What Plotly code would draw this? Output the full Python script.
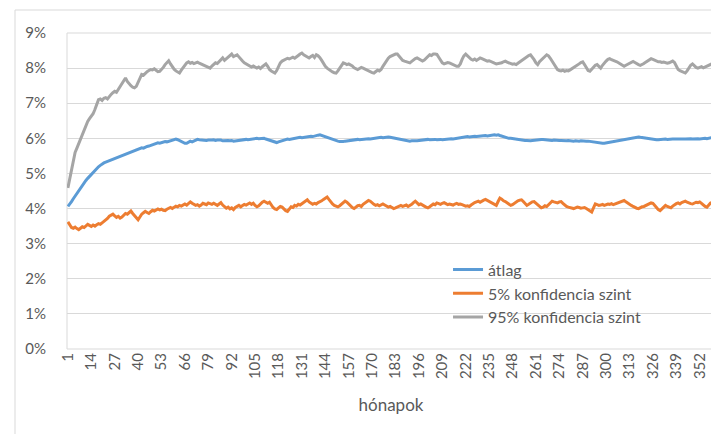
import plotly.graph_objects as go

months = list(range(1, 361))
tick_months = list(range(1, 361, 13))

atlag = [
    4.06, 4.12, 4.20, 4.28, 4.36, 4.42, 4.50, 4.58, 4.65, 4.72,
    4.80, 4.86, 4.92, 4.98, 5.04, 5.10, 5.14, 5.19, 5.23, 5.27,
    5.30, 5.32, 5.34, 5.37, 5.39, 5.41, 5.44, 5.46, 5.47, 5.50,
    5.51, 5.53, 5.55, 5.56, 5.58, 5.61, 5.62, 5.64, 5.67, 5.69,
    5.71, 5.73, 5.72, 5.75, 5.77, 5.78, 5.80, 5.82, 5.84, 5.85,
    5.87, 5.86, 5.88, 5.90, 5.91, 5.90, 5.92, 5.94, 5.95, 5.96,
    5.98, 5.96, 5.93, 5.90, 5.88, 5.86, 5.86, 5.89, 5.92, 5.90,
    5.92, 5.95, 5.97, 5.96, 5.95, 5.96, 5.95, 5.94, 5.95, 5.94,
    5.95, 5.96, 5.94, 5.95, 5.96, 5.95, 5.93, 5.94, 5.95, 5.94,
    5.93, 5.94, 5.92, 5.93, 5.93, 5.95, 5.96, 5.95, 5.96, 5.97,
    5.96, 5.97, 5.98, 5.97, 5.99, 6.00, 5.99, 6.00, 6.01, 6.00,
    5.98, 5.96, 5.94, 5.92, 5.90, 5.89, 5.88, 5.90, 5.92, 5.94,
    5.96, 5.97, 5.98, 5.97, 5.98, 6.00, 6.01, 6.00, 6.02, 6.03,
    6.02, 6.03, 6.04, 6.03, 6.05, 6.06, 6.05, 6.07, 6.08, 6.09,
    6.10, 6.08, 6.06, 6.04, 6.02, 6.00, 5.98, 5.96, 5.94, 5.93,
    5.92, 5.91, 5.90, 5.91, 5.92, 5.93, 5.94, 5.94, 5.95, 5.95,
    5.96, 5.97, 5.96, 5.97, 5.98, 5.97, 5.98, 5.99, 5.98, 5.99,
    6.00, 6.01, 6.00, 6.02, 6.03, 6.02, 6.03, 6.04, 6.04, 6.03,
    6.02, 6.01, 6.00, 5.98, 5.97, 5.96, 5.95, 5.94, 5.93, 5.92,
    5.92, 5.93, 5.92, 5.93, 5.93, 5.94, 5.95, 5.95, 5.96, 5.96,
    5.97, 5.96, 5.97, 5.96, 5.97, 5.96, 5.97, 5.97, 5.96, 5.97,
    5.98, 5.97, 5.98, 5.99, 5.98, 5.99, 6.00, 6.01, 6.02, 6.02,
    6.03, 6.04, 6.05, 6.04, 6.05, 6.06, 6.06, 6.05, 6.06, 6.07,
    6.06, 6.07, 6.08, 6.07, 6.08, 6.09, 6.09, 6.10, 6.09, 6.10,
    6.08, 6.06, 6.04, 6.02, 6.01, 6.00, 6.00, 5.99, 6.00, 5.99,
    5.98, 5.97, 5.96, 5.95, 5.94, 5.94, 5.93, 5.93, 5.94, 5.95,
    5.96, 5.97, 5.96, 5.97, 5.97, 5.96, 5.95, 5.96, 5.95, 5.94,
    5.95, 5.94, 5.95, 5.94, 5.94, 5.93, 5.94, 5.93, 5.94, 5.93,
    5.93, 5.92, 5.93, 5.92, 5.92, 5.93, 5.92, 5.91, 5.92, 5.92,
    5.91, 5.90, 5.89, 5.88, 5.87, 5.86, 5.85, 5.86, 5.86, 5.87,
    5.88, 5.89, 5.90, 5.91, 5.92, 5.92, 5.93, 5.94, 5.95, 5.97,
    5.98, 6.00, 6.01, 6.02, 6.03, 6.04, 6.05, 6.04, 6.03, 6.02,
    6.02, 6.01, 6.00, 5.99, 5.98, 5.97, 5.97, 5.96, 5.96, 5.97,
    5.96, 5.97, 5.98, 5.97, 5.98, 5.97, 5.98, 5.98, 5.97, 5.98,
    5.98, 5.99, 5.98, 5.98, 5.99, 5.98, 5.99, 5.98, 5.99, 5.99,
    5.99, 5.98, 5.99, 5.99, 6.00, 5.99, 6.00, 6.01, 6.02, 6.04,
]

konf5 = [
    3.62, 3.52, 3.46, 3.44, 3.47, 3.43, 3.40, 3.44, 3.48, 3.46,
    3.51, 3.55, 3.52, 3.49, 3.53, 3.50, 3.54, 3.57, 3.55, 3.59,
    3.62, 3.66, 3.72, 3.78, 3.80, 3.84, 3.79, 3.75, 3.78, 3.73,
    3.76, 3.82, 3.86, 3.84, 3.90, 3.93, 3.86, 3.79, 3.72, 3.68,
    3.76, 3.84, 3.88, 3.92, 3.89, 3.86, 3.91, 3.95, 3.93, 3.97,
    3.99, 3.96, 3.98, 3.95, 3.94, 3.98, 4.01, 4.03, 4.00, 4.04,
    4.07, 4.05, 4.09, 4.07, 4.11, 4.13, 4.10, 4.16, 4.19, 4.15,
    4.12, 4.09, 4.11, 4.07, 4.10, 4.15, 4.13, 4.11, 4.16, 4.14,
    4.12, 4.15, 4.11, 4.09, 4.13, 4.17, 4.10, 4.05, 4.01, 4.04,
    3.99, 4.02, 3.97, 4.03, 4.06, 4.09, 4.05, 4.08, 4.12, 4.10,
    4.14, 4.16, 4.12, 4.15, 4.09, 4.05, 4.08, 4.14, 4.18, 4.21,
    4.17, 4.15, 4.18, 4.10, 4.03, 3.99, 3.97, 4.02, 4.06, 4.04,
    3.98, 3.94, 3.92, 3.99, 4.05, 4.03, 4.09, 4.07, 4.12, 4.10,
    4.14, 4.18, 4.21, 4.25, 4.19, 4.16, 4.12, 4.15, 4.13, 4.17,
    4.19, 4.22, 4.26, 4.30, 4.33, 4.26, 4.18, 4.13, 4.09, 4.07,
    4.05, 4.08, 4.13, 4.17, 4.21, 4.18, 4.12, 4.06, 4.03, 4.00,
    4.04, 4.08, 4.09, 4.06, 4.12, 4.15, 4.19, 4.23, 4.21, 4.16,
    4.12, 4.09, 4.11, 4.08, 4.10, 4.13, 4.10, 4.07, 4.04, 4.06,
    4.03, 4.00, 4.02, 4.05, 4.08, 4.09, 4.06, 4.08, 4.10, 4.06,
    4.08, 4.12, 4.17, 4.21, 4.16, 4.11, 4.13, 4.09, 4.07, 4.04,
    4.02, 4.05, 4.09, 4.13, 4.11, 4.16, 4.14, 4.12, 4.15, 4.17,
    4.14, 4.11, 4.13, 4.12, 4.10, 4.13, 4.15, 4.12, 4.13, 4.11,
    4.09, 4.07, 4.08, 4.06, 4.10, 4.14, 4.17, 4.19, 4.21, 4.18,
    4.22, 4.24, 4.26, 4.23, 4.21, 4.17, 4.13, 4.10, 4.09, 4.20,
    4.30, 4.27, 4.22, 4.20, 4.16, 4.12, 4.09, 4.11, 4.15, 4.19,
    4.22, 4.24, 4.25, 4.20, 4.14, 4.09, 4.12, 4.16, 4.19, 4.20,
    4.15, 4.10, 4.05, 4.02, 4.04, 4.08, 4.06, 4.12, 4.18, 4.21,
    4.19, 4.17, 4.16, 4.19, 4.20, 4.15, 4.10, 4.06, 4.04, 4.02,
    4.01, 4.00, 4.02, 4.04, 4.03, 4.01, 4.02, 4.03, 4.00, 3.96,
    3.92, 3.90, 4.02, 4.13, 4.11, 4.09, 4.10, 4.12, 4.09, 4.11,
    4.13, 4.12, 4.14, 4.11, 4.13, 4.15, 4.17, 4.19, 4.21, 4.23,
    4.19, 4.15, 4.11, 4.09, 4.06, 4.03, 4.01, 4.00, 4.03, 4.05,
    4.06, 4.08, 4.11, 4.14, 4.16, 4.15, 4.10, 4.03, 3.97, 3.94,
    3.99, 4.05, 4.09, 4.06, 4.03, 4.02, 4.07, 4.11, 4.14, 4.16,
    4.13, 4.17, 4.19, 4.21, 4.18, 4.15, 4.14, 4.13, 4.16, 4.18,
    4.17, 4.19, 4.15, 4.10, 4.06, 4.04, 4.10, 4.16, 4.18, 4.19,
]

konf95 = [
    4.59, 4.85, 5.10, 5.35, 5.60, 5.72, 5.85, 6.00, 6.12, 6.25,
    6.38, 6.48, 6.56, 6.62, 6.70, 6.82, 6.95, 7.10, 7.12, 7.08,
    7.14, 7.16, 7.12, 7.20, 7.25, 7.30, 7.34, 7.31, 7.40, 7.48,
    7.55, 7.63, 7.72, 7.62, 7.55, 7.50, 7.46, 7.44, 7.48, 7.60,
    7.72, 7.82, 7.80, 7.86, 7.90, 7.93, 7.96, 7.95, 7.98, 7.94,
    7.90, 7.91, 7.96, 8.02, 8.10, 8.16, 8.21, 8.12, 8.03, 7.97,
    7.92, 7.88, 7.86, 7.94, 8.02, 8.10, 8.15, 8.18, 8.14, 8.16,
    8.13, 8.15, 8.17, 8.14, 8.12, 8.09, 8.06, 8.04, 8.02, 8.00,
    8.06, 8.12, 8.15, 8.13, 8.18, 8.24, 8.29, 8.22, 8.26, 8.31,
    8.35, 8.40, 8.33, 8.36, 8.38, 8.32, 8.25, 8.20, 8.15, 8.12,
    8.08, 8.05, 8.03, 8.06, 8.02, 8.00, 8.03, 7.99, 8.04, 8.08,
    8.12, 8.05, 7.96, 7.92, 7.88, 7.86, 7.93, 8.05, 8.15, 8.20,
    8.22, 8.25, 8.28, 8.26, 8.29, 8.31, 8.28, 8.33, 8.36, 8.40,
    8.43, 8.38, 8.35, 8.31, 8.29, 8.33, 8.36, 8.30, 8.38, 8.35,
    8.30, 8.22, 8.12, 8.05, 8.00, 7.96, 7.92, 7.89, 7.87, 7.86,
    7.92, 8.00, 8.08, 8.15, 8.13, 8.10, 8.12, 8.10, 8.06, 8.01,
    7.98, 7.96, 7.99, 8.02, 8.00, 7.97, 7.94, 7.92, 7.89, 7.87,
    7.86, 7.90, 7.94, 7.92, 7.96, 8.05, 8.14, 8.22, 8.28, 8.33,
    8.36, 8.38, 8.40, 8.40, 8.33, 8.26, 8.22, 8.20, 8.18, 8.15,
    8.15, 8.19, 8.24, 8.27, 8.29, 8.26, 8.22, 8.20, 8.23, 8.28,
    8.33, 8.38, 8.36, 8.40, 8.40, 8.39, 8.31, 8.22, 8.15, 8.12,
    8.14, 8.16, 8.15, 8.12, 8.09, 8.07, 8.05, 8.05, 8.12, 8.25,
    8.35, 8.40, 8.34, 8.28, 8.25, 8.23, 8.26, 8.22, 8.25, 8.29,
    8.27, 8.24, 8.22, 8.20, 8.21, 8.18, 8.16, 8.14, 8.12, 8.13,
    8.12, 8.15, 8.18, 8.20, 8.17, 8.15, 8.13, 8.11, 8.12, 8.10,
    8.14, 8.18, 8.22, 8.25, 8.28, 8.33, 8.36, 8.38, 8.32, 8.24,
    8.15, 8.10, 8.18, 8.24, 8.30, 8.33, 8.38, 8.35, 8.28, 8.20,
    8.10, 8.02, 7.96, 7.93, 7.92, 7.94, 7.91, 7.93, 7.92, 7.95,
    7.98, 8.02, 8.05, 8.08, 8.12, 8.16, 8.18, 8.10, 8.00, 7.93,
    7.91, 7.96, 8.03, 8.08, 8.10, 8.06, 8.00, 8.08, 8.15, 8.20,
    8.25, 8.27, 8.24, 8.21, 8.20, 8.18, 8.15, 8.12, 8.08, 8.05,
    8.08, 8.11, 8.15, 8.17, 8.19, 8.16, 8.12, 8.10, 8.08, 8.10,
    8.13, 8.17, 8.21, 8.24, 8.27, 8.25, 8.22, 8.20, 8.18, 8.18,
    8.16, 8.17, 8.15, 8.14, 8.15, 8.17, 8.20, 8.16, 8.06, 7.96,
    7.93, 7.90, 7.88, 7.86, 7.92, 8.02, 8.08, 8.12, 8.06, 8.02,
    8.00, 8.02, 8.04, 8.01, 8.03, 8.05, 8.07, 8.10, 8.13, 8.15,
]

series_names = ["átlag", "5% konfidencia szint", "95% konfidencia szint"]
series_colors = ["#5B9BD5", "#ED7D31", "#A5A5A5"]
series_values = [atlag, konf5, konf95]

font_family = "Lato, 'Open Sans', sans-serif"
text_color = "#595959"

fig = go.Figure()
for name, color, vals in zip(series_names, series_colors, series_values):
    fig.add_trace(go.Scatter(
        x=months, y=vals, name=name, mode="lines",
        line=dict(color=color, width=3),
    ))

fig.update_layout(
    width=719, height=434,
    margin=dict(l=59, r=12, t=25, b=93),
    paper_bgcolor="white", plot_bgcolor="white",
    font=dict(family=font_family, color=text_color, size=14),
    showlegend=True,
    legend=dict(
        x=0.588, y=0.305, xanchor="left", yanchor="top",
        bgcolor="rgba(0,0,0,0)", font=dict(size=16, color=text_color),
        tracegroupgap=0, itemwidth=30,
    ),
    xaxis=dict(
        range=[0.5, 360.5], tickmode="array", tickvals=tick_months,
        ticktext=[str(m) for m in tick_months], tickangle=-90,
        showgrid=False, zeroline=False, showline=False, ticks="",
        tickfont=dict(size=15, color=text_color),
        title=dict(text="hónapok", font=dict(size=17, color=text_color), standoff=20),
    ),
    yaxis=dict(
        range=[0, 9], dtick=1, ticksuffix="%", showgrid=True,
        gridcolor="#D9D9D9", gridwidth=1, zeroline=False, showline=False,
        ticks="", tickfont=dict(size=15, color=text_color),
        ticklabelstandoff=20,
    ),
    shapes=[
        dict(type="rect", xref="paper", yref="paper", x0=0, x1=1, y0=0, y1=1,
             line=dict(color="#D9D9D9", width=1), layer="below"),
        dict(type="rect", xref="paper", yref="paper",
             x0=(7 - 59) / 648, x1=(717 - 59) / 648,
             y0=(341 - 432) / 316, y1=(341 - 2) / 316,
             line=dict(color="#D9D9D9", width=1), layer="below"),
    ],
)

fig.write_html("out.html")
